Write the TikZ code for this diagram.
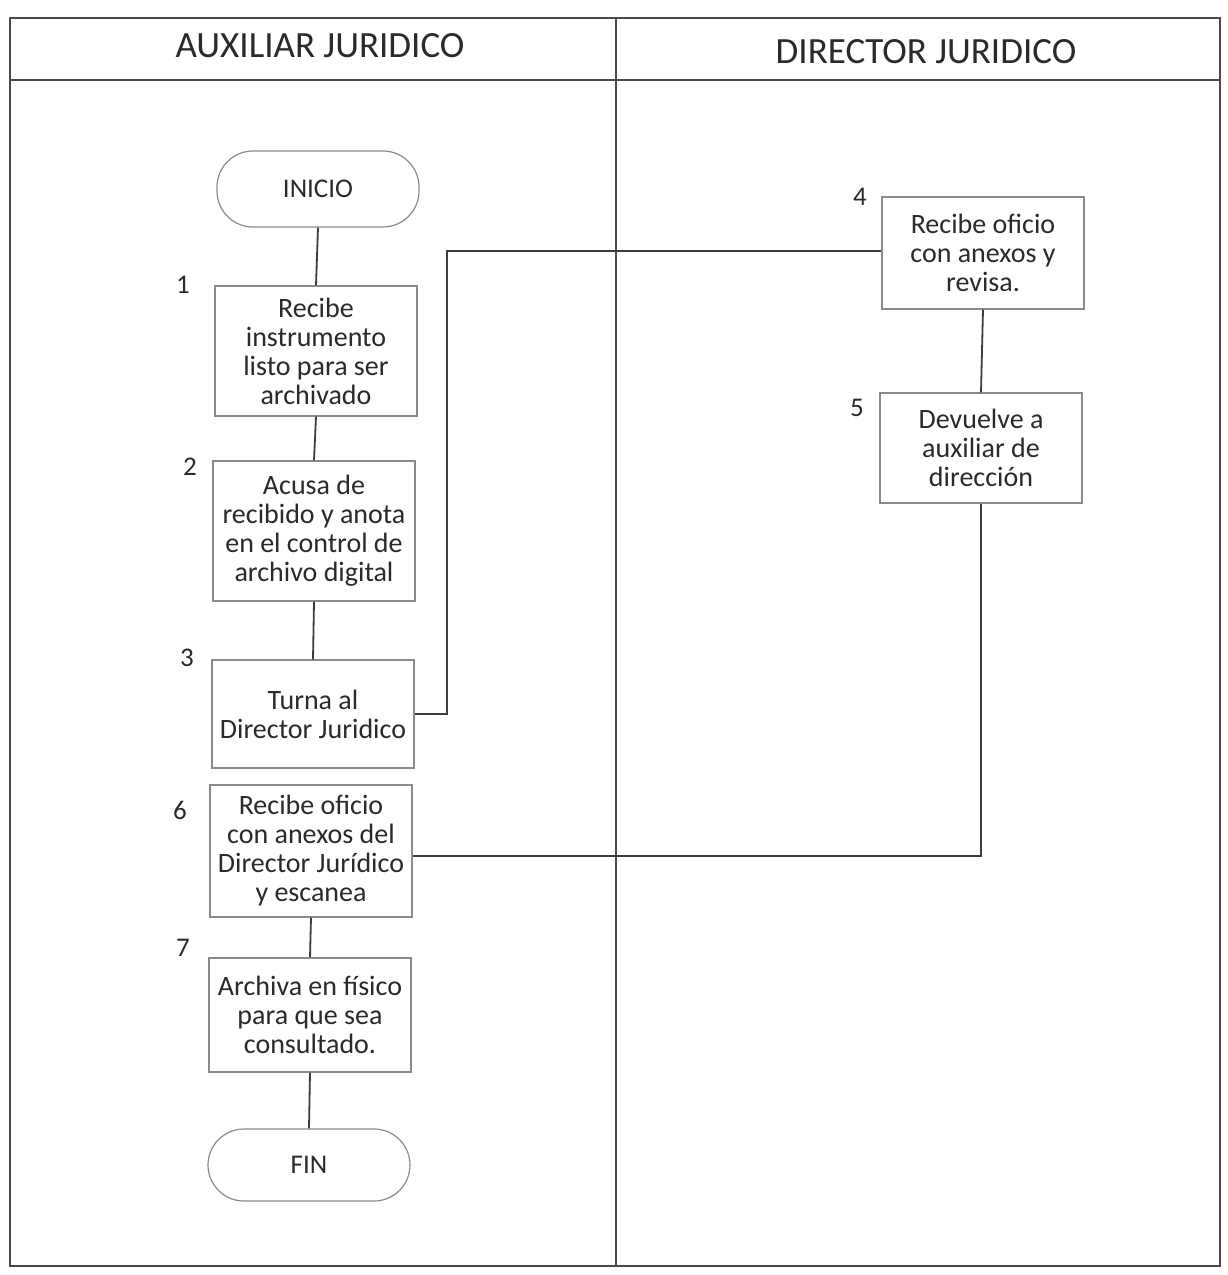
\documentclass[tikz,border=0pt]{standalone}
\usepackage{fontspec}
\setmainfont{Carlito}
\definecolor{frameline}{HTML}{4A4A4A}
\definecolor{boxline}{HTML}{8A8A8A}
\definecolor{flowline}{HTML}{3C3C3C}
\definecolor{inkgray}{HTML}{2A2A2A}
\tikzset{
  lane/.style={draw=frameline, line width=1.3pt},
  stepbox/.style={draw=boxline, line width=0.6pt, fill=white, text=inkgray,
    minimum width=101pt, align=center, font=\fontsize{14}{14.5}\selectfont, inner sep=1pt},
  terminal/.style={draw=boxline, line width=0.6pt, rectangle, rounded corners=18pt, fill=white, text=inkgray,
    minimum width=101pt, minimum height=38pt, font=\fontsize{13.5}{15}\selectfont},
  flow/.style={draw=flowline, line width=0.9pt},
  stepnum/.style={text=inkgray, font=\fontsize{13.5}{15}\selectfont},
  lanetitle/.style={text=inkgray, font=\fontsize{18.5}{21}\selectfont}
}
\begin{document}
\begin{tikzpicture}[x=0.5pt, y=-0.5pt]
  \useasboundingbox (0,0) rectangle (1227,1275);
  \fill[white] (0,0) rectangle (1227,1275);

  % swimlane frame
  \draw[lane] (10,18) rectangle (1220,1266);
  \draw[lane] (10,80) -- (1220,80);
  \draw[lane] (616,18) -- (616,1266);
  \node[lanetitle] (t1) at (320,46) {AUXILIAR JURIDICO};
  \node[lanetitle] (t2) at (926,52) {DIRECTOR JURIDICO};

  % left lane
  \node[terminal] (ini) at (318,189) {INICIO};
  \node[stepbox, minimum height=65pt] (s1) at (316,351)
    {Recibe\\instrumento\\listo para ser\\archivado};
  \node[stepbox, minimum height=70pt] (s2) at (314,531)
    {Acusa de\\recibido y anota\\en el control de\\archivo digital};
  \node[stepbox, minimum height=54pt] (s3) at (313,714)
    {Turna al\\Director Juridico};
  \node[stepbox, minimum height=66pt] (s6) at (311,851)
    {Recibe oficio\\con anexos del\\Director Jurídico\\y escanea};
  \node[stepbox, minimum height=57pt] (s7) at (310,1015)
    {Archiva en físico\\para que sea\\consultado.};
  \node[terminal, minimum height=36pt] (fin) at (309,1165) {FIN};

  % right lane
  \node[stepbox, minimum height=56pt] (s4) at (983,253)
    {Recibe oficio\\con anexos y\\revisa.};
  \node[stepbox, minimum height=55pt] (s5) at (981,448)
    {Devuelve a\\auxiliar de\\dirección};

  % step numbers
  \node[stepnum] (n1) at (183,285) {1};
  \node[stepnum] (n2) at (190,467) {2};
  \node[stepnum] (n3) at (187,658) {3};
  \node[stepnum] (n6) at (180,810) {6};
  \node[stepnum] (n7) at (183,948) {7};
  \node[stepnum] (n4) at (860,197) {4};
  \node[stepnum] (n5) at (857,408) {5};

  % connectors
  \draw[flow] (ini.south) -- (s1.north);
  \draw[flow] (s1.south) -- (s2.north);
  \draw[flow] (s2.south) -- (s3.north);
  \draw[flow] (s6.south) -- (s7.north);
  \draw[flow] (s7.south) -- (fin.north);
  \draw[flow] (s4.south) -- (s5.north);
  \draw[flow] (s3.east) -- (447,714) -- (447,251) -- (s4.west |- 0,251);
  \draw[flow] (s5.south) -- (s5.south |- 0,856) -- (s6.east |- 0,856);
\end{tikzpicture}
\end{document}
